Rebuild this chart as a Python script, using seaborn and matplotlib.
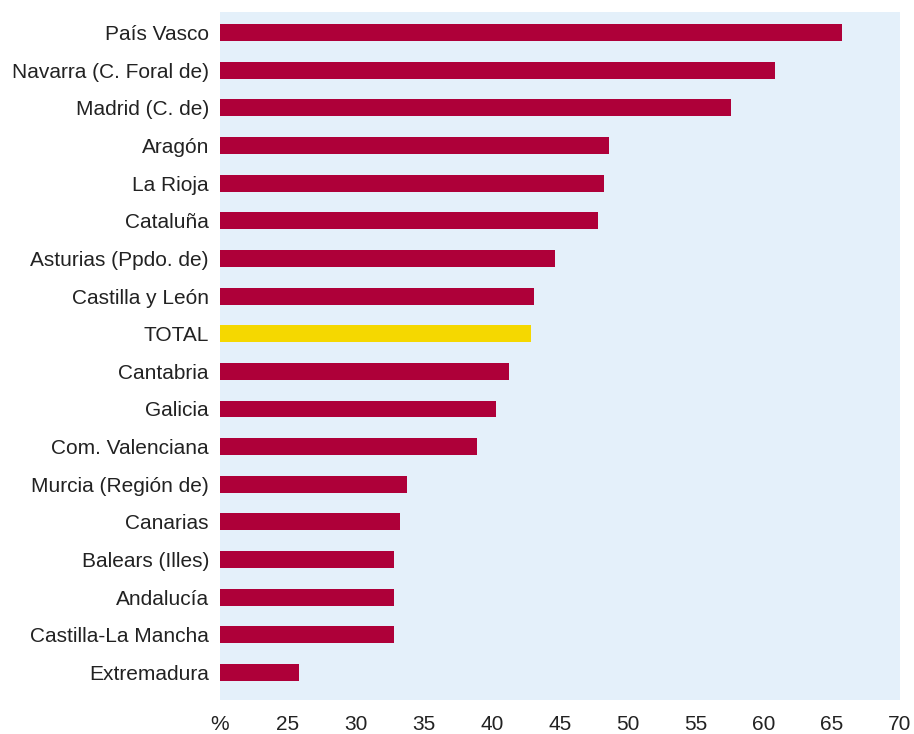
import matplotlib
matplotlib.use("Agg")
import matplotlib.pyplot as plt
import seaborn as sns
import pandas as pd

regions = ["País Vasco", "Navarra (C. Foral de)", "Madrid (C. de)", "Aragón", "La Rioja",
           "Cataluña", "Asturias (Ppdo. de)", "Castilla y León", "TOTAL", "Cantabria",
           "Galicia", "Com. Valenciana", "Murcia (Región de)", "Canarias", "Balears (Illes)",
           "Andalucía", "Castilla-La Mancha", "Extremadura"]
values = [65.7, 60.8, 57.6, 48.6, 48.2, 47.8, 44.6, 43.1, 42.9, 41.25,
          40.3, 38.9, 33.75, 33.2, 32.8, 32.8, 32.8, 25.8]
xticks = [20, 25, 30, 35, 40, 45, 50, 55, 60, 65, 70]
xticklabels = ["%", "25", "30", "35", "40", "45", "50", "55", "60", "65", "70"]

sns.set_style("white")
plt.rcParams['font.family'] = ['Liberation Sans', 'DejaVu Sans']

df = pd.DataFrame({"region": regions, "value": values})
palette = {r: ("#F5D800" if r == "TOTAL" else "#AE0039") for r in regions}

fig = plt.figure(figsize=(9.14, 7.34), dpi=100)
ax = fig.add_axes([220/914, 1 - 700/734, 680/914, 688/734])
sns.barplot(data=df, y="region", x="value", hue="region", palette=palette,
            order=regions, width=0.45, legend=False, ax=ax, saturation=1,
            linewidth=0)
ax.set_facecolor("#E4F0FA")
ax.set_xlim(20, 70)
ax.set_ylim(17.73, -0.545)
ax.set_xticks(xticks)
ax.set_xticklabels(xticklabels, fontsize=15, color="#222222")
ax.set_yticks(range(len(regions)))
ax.set_yticklabels(regions, fontsize=15, color="#222222")
ax.tick_params(axis="y", length=0, pad=8)
ax.tick_params(axis="x", length=0, pad=11)
ax.set_xlabel("")
ax.set_ylabel("")
for s in ax.spines.values():
    s.set_visible(False)
fig.savefig("out.png", dpi=100)
